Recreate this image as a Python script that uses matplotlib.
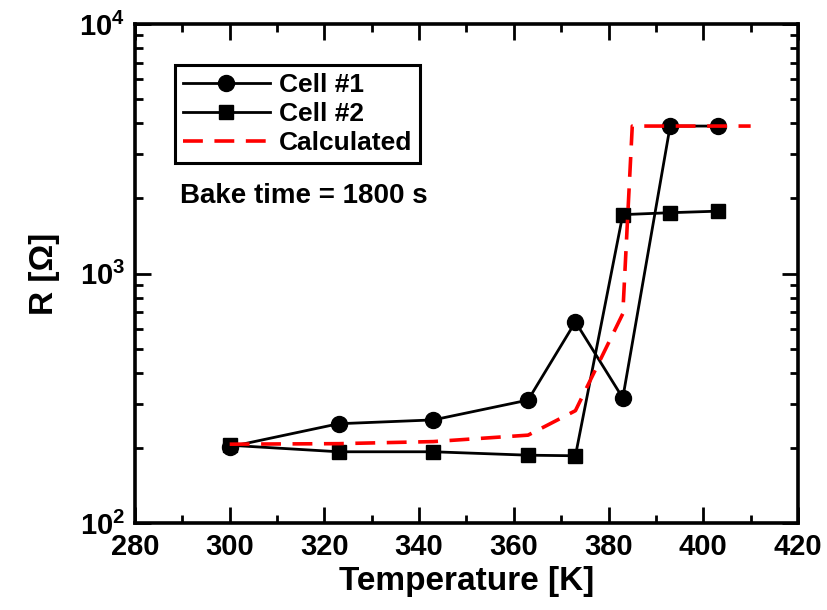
import matplotlib
matplotlib.use("Agg")
import matplotlib.pyplot as plt
from matplotlib.ticker import LogLocator, NullFormatter, MultipleLocator

plt.rcParams['font.family'] = ['Liberation Sans', 'DejaVu Sans']
plt.rcParams['font.weight'] = 'bold'
plt.rcParams['mathtext.fontset'] = 'custom'
plt.rcParams['mathtext.rm'] = 'Liberation Sans:bold'
plt.rcParams['mathtext.it'] = 'Liberation Sans:bold'
plt.rcParams['mathtext.bf'] = 'Liberation Sans:bold'
plt.rcParams['mathtext.default'] = 'regular'

# Data
cell1_T = [300, 323, 343, 363, 373, 383, 393, 403]
cell1_R = [202, 250, 259, 311, 640, 317, 3900, 3900]
cell2_T = [300, 323, 343, 363, 373, 383, 393, 403]
cell2_R = [205, 193, 193, 187, 186, 1722, 1753, 1778]
calc_T = [300, 323, 343, 363, 373, 383, 385, 410]
calc_R = [207, 208, 212, 225, 282, 690, 3900, 3900]

fig = plt.figure(figsize=(8.28, 6.10), dpi=100)
ax = fig.add_axes([0.163, 0.1426, 0.8008, 0.818])

ax.plot(cell1_T, cell1_R, '-', color='black', lw=2.0, marker='o', ms=11.5,
        label='Cell #1', zorder=3)
ax.plot(cell2_T, cell2_R, '-', color='black', lw=2.0, marker='s', ms=10.5,
        label='Cell #2', zorder=3)
ax.plot(calc_T, calc_R, color='red', lw=2.6, dashes=(5.5, 3.2),
        label='Calculated', zorder=4)

ax.set_yscale('log')
ax.set_xlim(280, 420)
ax.set_ylim(100, 10000)
ax.xaxis.set_major_locator(MultipleLocator(20))
ax.xaxis.set_minor_locator(MultipleLocator(10))
ax.yaxis.set_major_locator(LogLocator(base=10, numticks=10))
ax.yaxis.set_minor_locator(LogLocator(base=10, subs=range(2, 10), numticks=20))
ax.yaxis.set_minor_formatter(NullFormatter())

for s in ax.spines.values():
    s.set_linewidth(2.6)
ax.tick_params(which='both', direction='in', top=True, right=True, width=2.0)
ax.tick_params(which='major', length=11.5, labelsize=21, pad=7)
ax.tick_params(which='minor', length=6)

ax.set_xlabel('Temperature [K]', fontsize=24, fontweight='bold', labelpad=4)
ax.set_ylabel('R [Ω]', fontsize=24, fontweight='bold', labelpad=14)

leg = ax.legend(loc='upper left', bbox_to_anchor=(0.060, 0.918),
                prop={'size': 19, 'weight': 'bold'},
                frameon=True, fancybox=False, edgecolor='black', framealpha=1,
                handlelength=3.3, handletextpad=0.35, borderpad=0.3,
                labelspacing=0.2, borderaxespad=0)
leg.get_frame().set_linewidth(2.2)

ax.text(0.068, 0.655, 'Bake time = 1800 s', transform=ax.transAxes,
        fontsize=20, fontweight='bold', va='center', ha='left')

fig.savefig('out.png', dpi=100)
